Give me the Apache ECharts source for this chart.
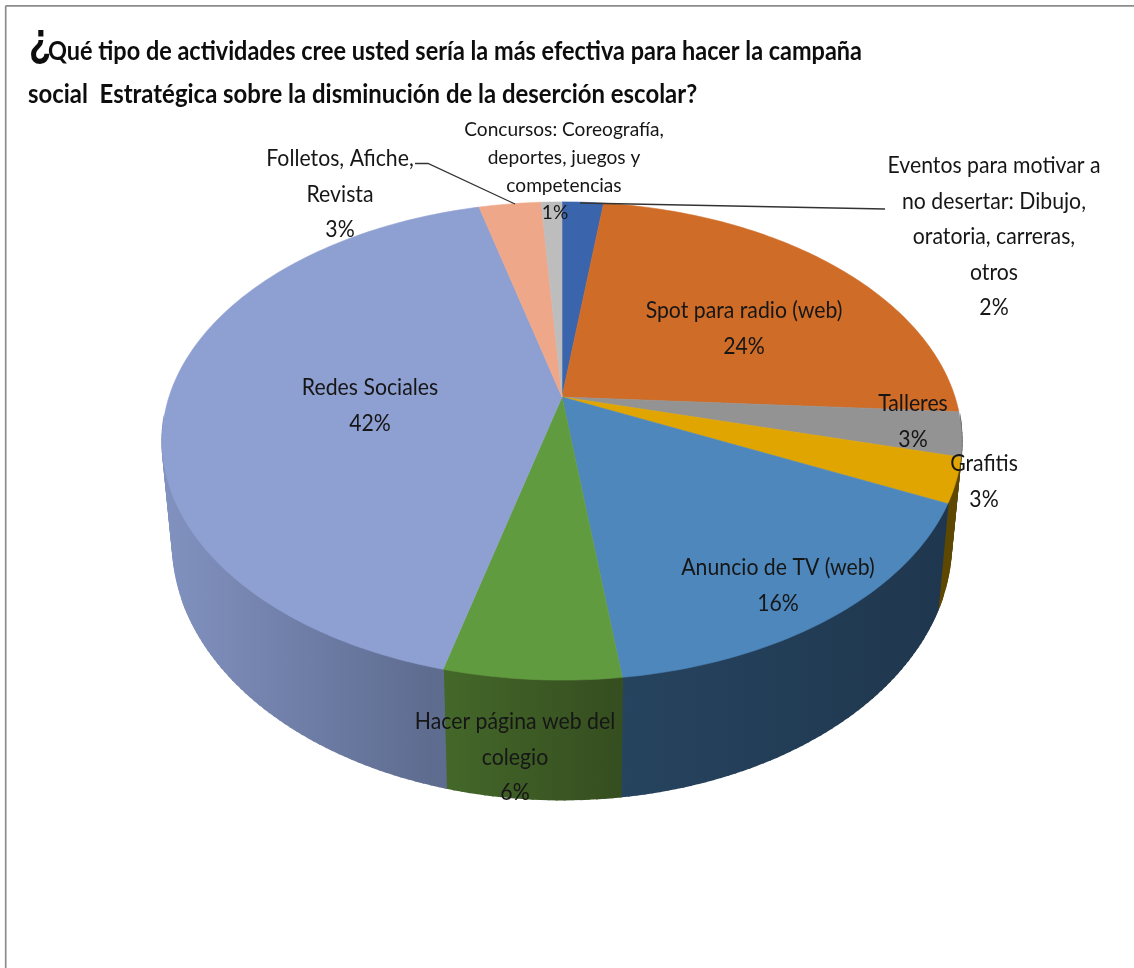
<!DOCTYPE html>
<html>
<head>
<meta charset="utf-8">
<style>html,body{margin:0;padding:0;background:#fff}#chart{width:1134px;height:968px}</style>
<script src="https://cdn.jsdelivr.net/npm/echarts@6/dist/echarts.min.js"></script>
</head>
<body>
<div id="chart"></div>
<script>
// Survey answers, clockwise from twelve o'clock, in percent.
const categories = [
  'Eventos para motivar a\nno desertar: Dibujo,\noratoria, carreras,\notros',
  'Spot para radio (web)',
  'Talleres',
  'Grafitis',
  'Anuncio de TV (web)',
  'Hacer página web del\ncolegio',
  'Redes Sociales',
  'Folletos, Afiche,\nRevista',
  'Concursos: Coreografía,\ndeportes, juegos y\ncompetencias'
];
const values = [2, 24, 3, 3, 16, 6, 42, 3, 1];
const titleLines = [
  'Qué tipo de actividades cree usted sería la más efectiva para hacer la campaña',
  'social  Estratégica sobre la disminución de la deserción escolar?'
];

const topColors = ['#3a64ac', '#cf6c28', '#939393', '#e0a500', '#4e87bc', '#619b3f', '#8e9fd1', '#eea789', '#bdbdbd'];
const wallColors = [
  ['#243e6b', '#243e6b'], ['#7f4319', '#7f4319'], ['#5a5a5a', '#5a5a5a'], ['#5e4700', '#5e4700'],
  ['#2a4a68', '#1f374e'], ['#466b2b', '#364f20'], ['#8292c0', '#5e6c90'], ['#94674f', '#94674f'], ['#757575', '#757575']
];
const wallSpans = [[0,1],[0,1],[0,1],[0,1],[440,950],[420,612],[162,430],[0,1],[0,1]];

// Text placement: centre x and top y of each label block; pctDx nudges the percentage line.
const labelPlaces = [
  { x: 994, y: 148, size: 24, lh: 35.5, squeeze: 0.885 },
  { x: 744, y: 293, size: 24, lh: 35.5, squeeze: 0.885 },
  { x: 913, y: 386, size: 24, lh: 35.5, squeeze: 0.885 },
  { x: 984, y: 446, size: 24, lh: 35.5, squeeze: 0.885 },
  { x: 778, y: 550, size: 24, lh: 35.5, squeeze: 0.885 },
  { x: 515, y: 704, size: 24, lh: 35.5, squeeze: 0.885 },
  { x: 370, y: 370, size: 24, lh: 35.5, squeeze: 0.885 },
  { x: 340, y: 141, size: 24, lh: 35.5, squeeze: 0.885 },
  { x: 564, y: 116, size: 19.5, lh: 27.7, squeeze: 0.98, pctDx: -9 }
];
const leaderLines = [
  [[885, 209], [580, 203]],
  [[415, 163.5], [428, 163.5], [515, 204]]
];

// Perspective disc: k tilts the near edge towards the viewer.
const apex = { x: 562, y: 397 };
const disc = { rx: 393, ry: 231, k: 0.184 };
const floor = { dy: 98, sx: 0.974, sy: 1.076 };
const FONT = 'Lato, "Open Sans", sans-serif';

function rim(deg) {
  const t = deg * Math.PI / 180;
  const u = Math.sin(t), v = -Math.cos(t), w = 1 - disc.k * v;
  return [disc.rx * u / w, disc.ry * v / w];
}
const topPoint = deg => { const p = rim(deg); return [apex.x + p[0], apex.y + p[1]]; };
const lowPoint = deg => { const p = rim(deg); return [apex.x + floor.sx * p[0], apex.y + floor.dy + floor.sy * p[1]]; };

const total = values.reduce((a, b) => a + b, 0);
function sliceRange(i) {
  let before = 0;
  for (let j = 0; j < i; j++) before += values[j];
  return [before / total * 360, (before + values[i]) / total * 360];
}
function stepAngles(a, b) {
  const out = [];
  const n = Math.max(2, Math.ceil(b - a));
  for (let s = 0; s <= n; s++) out.push(a + (b - a) * s / n);
  return out;
}
// The far half of the wall is hidden by the top face, so it is left out.
const faces = deg => -Math.cos(deg * Math.PI / 180) > 0.1;

const seriesData = values.map((v, i) => [i, v]);

const chart = echarts.init(document.getElementById('chart'), null, { renderer: 'canvas' });
chart.setOption({
  backgroundColor: '#ffffff',
  animation: false,
  graphic: [
    { type: 'line', silent: true, shape: { x1: 5.7, y1: 5.8, x2: 1134, y2: 5.8 }, style: { stroke: '#8c8c8c', lineWidth: 1.7 } },
    { type: 'line', silent: true, shape: { x1: 5.7, y1: 5.8, x2: 5.7, y2: 968 }, style: { stroke: '#8c8c8c', lineWidth: 1.7 } },
    { type: 'text', silent: true, x: 29, y: 19, scaleX: 0.76, style: { text: '¿', font: 'bold 48px "Liberation Sans"', fill: '#0d0d0d' } },
    { type: 'text', silent: true, x: 48, y: 38, scaleX: 0.869, style: { text: titleLines[0], font: 'bold 27px ' + FONT, fill: '#0d0d0d' } },
    { type: 'text', silent: true, x: 28, y: 81, scaleX: 0.886, style: { text: titleLines[1], font: 'bold 27px ' + FONT, fill: '#0d0d0d' } }
  ],
  series: [
    {
      // Outer wall of the disc, built from short quads and drawn beneath the top faces.
      type: 'custom', coordinateSystem: 'none', z: 1, data: seriesData,
      renderItem: (params, api) => {
        const i = api.value(0);
        const r = sliceRange(i);
        const angles = stepAngles(r[0], r[1]);
        const fill = new echarts.graphic.LinearGradient(wallSpans[i][0], 0, wallSpans[i][1], 0,
          [{ offset: 0, color: wallColors[i][0] }, { offset: 1, color: wallColors[i][1] }], true);
        const children = [];
        for (let s = 0; s + 1 < angles.length; s++) {
          const a = angles[s], b = angles[s + 1];
          if (!faces((a + b) / 2)) continue;
          children.push({
            type: 'polygon',
            shape: { points: [topPoint(a), topPoint(b), lowPoint(b), lowPoint(a)] },
            style: { fill: fill, stroke: fill, lineWidth: 1.6 }
          });
        }
        return { type: 'group', children: children };
      }
    },
    {
      // Top faces.
      type: 'custom', coordinateSystem: 'none', z: 2, data: seriesData,
      renderItem: (params, api) => {
        const i = api.value(0);
        const r = sliceRange(i);
        const pts = [[apex.x, apex.y]].concat(stepAngles(r[0], r[1]).map(topPoint));
        return { type: 'polygon', shape: { points: pts }, style: { fill: topColors[i], stroke: topColors[i], lineWidth: 0.6 } };
      }
    },
    {
      // Category and percentage labels.
      type: 'custom', coordinateSystem: 'none', z: 4, data: seriesData,
      renderItem: (params, api) => {
        const i = api.value(0);
        const p = labelPlaces[i];
        const lineCount = categories[i].split('\n').length;
        const textStyle = { x: 0, y: 0, align: 'center', verticalAlign: 'top', font: p.size + 'px ' + FONT, lineHeight: p.lh, fill: '#161616' };
        return {
          type: 'group',
          children: [
            { type: 'text', x: p.x, y: p.y, scaleX: p.squeeze, style: Object.assign({ text: categories[i] }, textStyle) },
            { type: 'text', x: p.x + (p.pctDx || 0), y: p.y + lineCount * p.lh, scaleX: p.squeeze, style: Object.assign({ text: api.value(1) + '%' }, textStyle) }
          ]
        };
      }
    },
    {
      // Leader lines for the labels set outside the disc.
      type: 'custom', coordinateSystem: 'none', z: 3, data: leaderLines.map((l, i) => [i]),
      renderItem: (params, api) => ({
        type: 'polyline',
        shape: { points: leaderLines[api.value(0)] },
        style: { fill: null, stroke: '#333333', lineWidth: 1.3 }
      })
    }
  ]
});
</script>
</body>
</html>
